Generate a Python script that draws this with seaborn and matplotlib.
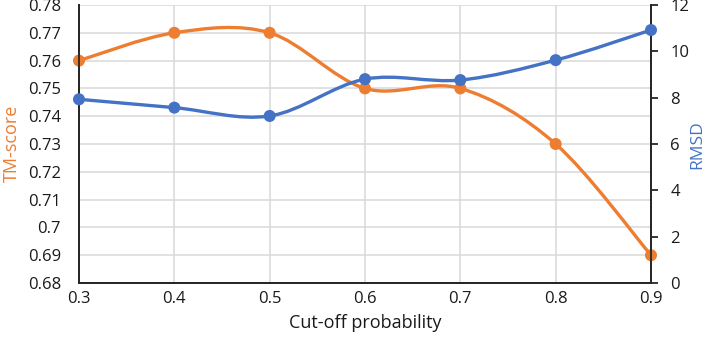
import matplotlib as mpl
mpl.use('Agg')
import matplotlib.pyplot as plt
from matplotlib.path import Path
from matplotlib.patches import PathPatch
import numpy as np
import pandas as pd
import seaborn as sns

# values
cutoff = [0.3, 0.4, 0.5, 0.6, 0.7, 0.8, 0.9]
tm_score = [0.76, 0.77, 0.77, 0.75, 0.75, 0.73, 0.69]
rmsd = [7.93, 7.57, 7.21, 8.80, 8.76, 9.62, 10.92]

orange = '#ED7D31'
blue = '#4472C4'


def smooth_path(xs, ys):
    """Excel-like smoothed line: cubic bezier through the points"""
    pts = np.column_stack([xs, ys]).astype(float)
    n = len(pts)
    verts = [pts[0]]
    codes = [Path.MOVETO]
    for i in range(n - 1):
        p0 = pts[i - 1] if i > 0 else pts[i]
        p1 = pts[i]
        p2 = pts[i + 1]
        p3 = pts[i + 2] if i + 2 < n else pts[i + 1]
        c1 = p1 + (p2 - p0) / 6.0
        c2 = p2 - (p3 - p1) / 6.0
        verts += [c1, c2, p2]
        codes += [Path.CURVE4] * 3
    return Path(verts, codes)


def setup_figure():
    sns.set_theme(style='white')
    plt.rcParams['font.family'] = ['Open Sans', 'DejaVu Sans']

    df = pd.DataFrame({'cutoff': cutoff, 'tm': tm_score, 'rmsd': rmsd})

    fig = plt.figure(figsize=(7.09, 3.37), dpi=100)
    ax = fig.add_axes([79 / 709, 1 - 283 / 337, (651 - 79) / 709, 278 / 337])
    ax2 = ax.twinx()

    # orange TM-score on the left axis
    ax.add_patch(PathPatch(smooth_path(df.cutoff, df.tm), facecolor='none',
                           edgecolor=orange, lw=2.4, zorder=3, capstyle='round'))
    sns.scatterplot(data=df, x='cutoff', y='tm', color=orange, s=75,
                    edgecolor='none', ax=ax, zorder=4, clip_on=False)

    # blue RMSD on the right axis
    ax2.add_patch(PathPatch(smooth_path(df.cutoff, df.rmsd), facecolor='none',
                            edgecolor=blue, lw=2.4, zorder=3, capstyle='round'))
    sns.scatterplot(data=df, x='cutoff', y='rmsd', color=blue, s=75,
                    edgecolor='none', ax=ax2, zorder=4, clip_on=False)

    tm_ticks = np.round(np.arange(0.68, 0.7801, 0.01), 2)
    ax.set_xlim(0.3, 0.9)
    ax.set_ylim(0.68, 0.78)
    ax2.set_ylim(0, 12)
    ax.set_xticks(cutoff)
    ax.set_xticklabels([f'{c:g}' for c in cutoff])
    ax.set_yticks(tm_ticks)
    ax.set_yticklabels([f'{v:g}' for v in tm_ticks])
    ax2.set_yticks(range(0, 13, 2))

    ax.grid(True, color='#D9D9D9', lw=1.1)
    ax2.grid(False)
    ax.set_axisbelow(True)

    for a in (ax, ax2):
        a.spines['top'].set_visible(False)
        for s in ('left', 'right', 'bottom'):
            a.spines[s].set_color('#262626')
            a.spines[s].set_linewidth(1.3)

    ax.tick_params(axis='y', length=0, pad=13, labelsize=12, colors='#1a1a1a')
    ax.tick_params(axis='x', length=0, pad=6, labelsize=12, colors='#1a1a1a')
    ax2.tick_params(axis='y', length=5, width=1.3, color='#262626', pad=9,
                    labelsize=12, labelcolor='#1a1a1a')

    ax.set_xlabel('Cut-off probability', fontsize=13, color='#1a1a1a', labelpad=5)
    ax.set_ylabel('')
    ax2.set_ylabel('')
    fig.text(12 / 709, 1 - 143 / 337, 'TM-score', rotation=90, color=orange,
             fontsize=13, ha='center', va='center')
    fig.text(697 / 709, 1 - 145 / 337, 'RMSD', rotation=90, color=blue,
             fontsize=12.5, ha='center', va='center')

    fig.savefig('out.png', dpi=100)


if __name__ == '__main__':
    setup_figure()
